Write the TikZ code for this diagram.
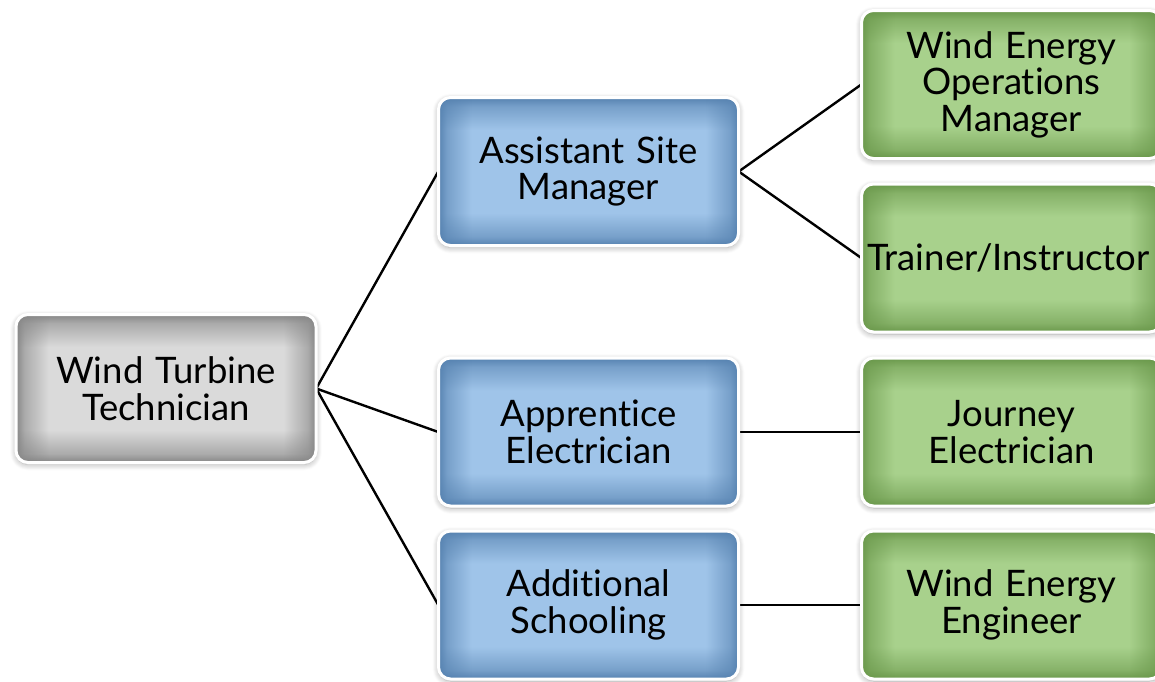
\documentclass[tikz,border=0pt]{standalone}
\usepackage{fontspec}
\setmainfont[Ligatures={NoCommon}]{Lato}
\usetikzlibrary{shadows.blur,backgrounds,fadings}
\definecolor{grayin}{HTML}{DADADA}
\definecolor{grayout}{HTML}{858585}
\definecolor{bluein}{HTML}{9FC4E9}
\definecolor{blueout}{HTML}{5682B0}
\definecolor{greenin}{HTML}{A8D18C}
\definecolor{greenout}{HTML}{6A984B}
\pgfdeclarehorizontalshading{hfadeshade}{100bp}{color(0bp)=(white); color(25bp)=(white); color(26.5bp)=(white!55!black); color(30.5bp)=(black); color(69.5bp)=(black); color(73.5bp)=(white!55!black); color(75bp)=(white); color(100bp)=(white)}
\pgfdeclarefading{hfade}{\pgfuseshading{hfadeshade}}
\pgfdeclareverticalshading{vgradgray}{100bp}{color(0bp)=(grayout); color(25bp)=(grayout); color(28bp)=(grayout!55!grayin); color(36bp)=(grayin); color(64bp)=(grayin); color(72bp)=(grayout!55!grayin); color(75bp)=(grayout); color(100bp)=(grayout)}
\pgfdeclareverticalshading{vgradblue}{100bp}{color(0bp)=(blueout); color(25bp)=(blueout); color(28bp)=(blueout!55!bluein); color(36bp)=(bluein); color(64bp)=(bluein); color(72bp)=(blueout!55!bluein); color(75bp)=(blueout); color(100bp)=(blueout)}
\pgfdeclareverticalshading{vgradgreen}{100bp}{color(0bp)=(greenout); color(25bp)=(greenout); color(28bp)=(greenout!55!greenin); color(36bp)=(greenin); color(64bp)=(greenin); color(72bp)=(greenout!55!greenin); color(75bp)=(greenout); color(100bp)=(greenout)}
\tikzset{
  box/.style={rounded corners=12pt,
    minimum width=300pt, minimum height=148pt, inner xsep=5pt, inner ysep=0pt,
    text width=290pt, align=center,
    font=\fontsize{36.5}{36.5}\selectfont,
    blur shadow={shadow blur steps=8, shadow xshift=0pt, shadow yshift=-2pt,
      shadow blur radius=6pt, shadow opacity=35}},
  graybox/.style={box, shade, shading=vgradgray,
    postaction={fill=grayout, path fading=hfade},
    postaction={draw=white, line width=3pt}},
  bluebox/.style={box, shade, shading=vgradblue,
    postaction={fill=blueout, path fading=hfade},
    postaction={draw=white, line width=3pt}},
  greenbox/.style={box, shade, shading=vgradgreen,
    postaction={fill=greenout, path fading=hfade},
    postaction={draw=white, line width=3pt}},
  link/.style={line width=2.4pt, black}
}
\begin{document}
\begin{tikzpicture}[x=1pt,y=-1pt]
\useasboundingbox (0,0) rectangle (1155,681);
\node[graybox] (wtt) at (166,388.5) {Wind Turbine\\Technician};
\node[bluebox] (asm) at (588.5,171.5) {Assistant Site\\Manager};
\node[bluebox] (ae) at (588.5,432) {Apprentice\\Electrician};
\node[bluebox] (as) at (588.5,605) {Additional\\Schooling};
\node[greenbox] (weom) at (1011.5,84.5) {Wind Energy\\Operations\\Manager};
\node[greenbox] (ti) at (1011.5,258) {\hspace*{-6pt}Trainer/Instructor};
\node[greenbox] (je) at (1011.5,432) {Journey\\Electrician};
\node[greenbox] (wee) at (1011.5,605) {Wind Energy\\Engineer};
\begin{scope}[on background layer]
\draw[link] (wtt.east) -- (asm.west);
\draw[link] (wtt.east) -- (ae.west);
\draw[link] (wtt.east) -- (as.west);
\draw[link] (asm.east) -- (weom.west);
\draw[link] (asm.east) -- (ti.west);
\draw[link] (ae.east) -- (je.west);
\draw[link] (as.east) -- (wee.west);
\end{scope}
\end{tikzpicture}
\end{document}
